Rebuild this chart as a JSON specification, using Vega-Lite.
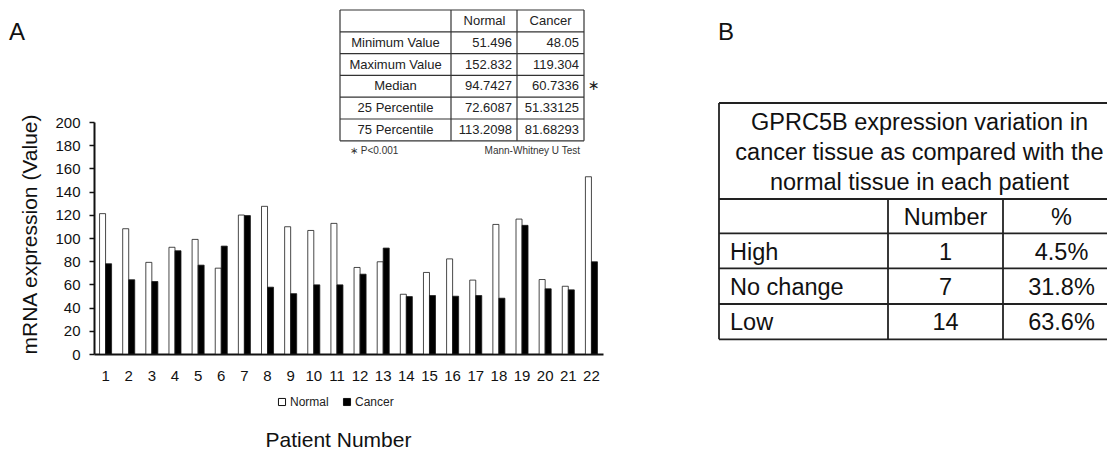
{
  "$schema": "https://vega.github.io/schema/vega-lite/v6.json",
  "width": 509,
  "height": 232,
  "autosize": {"type": "none"},
  "padding": {"left": 94, "top": 122, "right": 504, "bottom": 98},
  "background": "white",
  "config": {"view": {"stroke": null}, "font": "Liberation Sans"},
  "datasets": {
    "expr": [
      {"patient": 1, "tissue": "Normal", "value": 121.0}, {"patient": 1, "tissue": "Cancer", "value": 77.8},
      {"patient": 2, "tissue": "Normal", "value": 108.0}, {"patient": 2, "tissue": "Cancer", "value": 64.0},
      {"patient": 3, "tissue": "Normal", "value": 79.0}, {"patient": 3, "tissue": "Cancer", "value": 62.5},
      {"patient": 4, "tissue": "Normal", "value": 92.0}, {"patient": 4, "tissue": "Cancer", "value": 89.0},
      {"patient": 5, "tissue": "Normal", "value": 98.8}, {"patient": 5, "tissue": "Cancer", "value": 76.6},
      {"patient": 6, "tissue": "Normal", "value": 74.0}, {"patient": 6, "tissue": "Cancer", "value": 93.0},
      {"patient": 7, "tissue": "Normal", "value": 119.8}, {"patient": 7, "tissue": "Cancer", "value": 119.3},
      {"patient": 8, "tissue": "Normal", "value": 127.3}, {"patient": 8, "tissue": "Cancer", "value": 57.6},
      {"patient": 9, "tissue": "Normal", "value": 109.7}, {"patient": 9, "tissue": "Cancer", "value": 52.0},
      {"patient": 10, "tissue": "Normal", "value": 106.5}, {"patient": 10, "tissue": "Cancer", "value": 59.6},
      {"patient": 11, "tissue": "Normal", "value": 112.6}, {"patient": 11, "tissue": "Cancer", "value": 59.6},
      {"patient": 12, "tissue": "Normal", "value": 74.6}, {"patient": 12, "tissue": "Cancer", "value": 68.8},
      {"patient": 13, "tissue": "Normal", "value": 79.5}, {"patient": 13, "tissue": "Cancer", "value": 91.3},
      {"patient": 14, "tissue": "Normal", "value": 51.5}, {"patient": 14, "tissue": "Cancer", "value": 49.5},
      {"patient": 15, "tissue": "Normal", "value": 70.3}, {"patient": 15, "tissue": "Cancer", "value": 50.4},
      {"patient": 16, "tissue": "Normal", "value": 82.0}, {"patient": 16, "tissue": "Cancer", "value": 49.8},
      {"patient": 17, "tissue": "Normal", "value": 63.7}, {"patient": 17, "tissue": "Cancer", "value": 50.4},
      {"patient": 18, "tissue": "Normal", "value": 111.7}, {"patient": 18, "tissue": "Cancer", "value": 48.1},
      {"patient": 19, "tissue": "Normal", "value": 116.3}, {"patient": 19, "tissue": "Cancer", "value": 110.9},
      {"patient": 20, "tissue": "Normal", "value": 64.2}, {"patient": 20, "tissue": "Cancer", "value": 56.2},
      {"patient": 21, "tissue": "Normal", "value": 58.4}, {"patient": 21, "tissue": "Cancer", "value": 55.3},
      {"patient": 22, "tissue": "Normal", "value": 152.8}, {"patient": 22, "tissue": "Cancer", "value": 79.5}
    ],
    "statsA": [
      {"row": 1, "stat": "Minimum Value", "normal": "51.496", "cancer": "48.05", "sig": ""},
      {"row": 2, "stat": "Maximum Value", "normal": "152.832", "cancer": "119.304", "sig": ""},
      {"row": 3, "stat": "Median", "normal": "94.7427", "cancer": "60.7336", "sig": "∗"},
      {"row": 4, "stat": "25 Percentile", "normal": "72.6087", "cancer": "51.33125", "sig": ""},
      {"row": 5, "stat": "75 Percentile", "normal": "113.2098", "cancer": "81.68293", "sig": ""}
    ],
    "headA": [{"col": "Normal"}, {"col": "Cancer"}],
    "notesA": [{"note": "∗ P<0.001", "test": "Mann-Whitney U Test"}],
    "gridARows": [{"r": 0}, {"r": 1}, {"r": 2}, {"r": 3}, {"r": 4}, {"r": 5}, {"r": 6}],
    "gridACols": [{"c": 0}, {"c": 1}, {"c": 2}, {"c": 3}],
    "titleB": [{"title": "GPRC5B expression variation in\ncancer tissue as compared with the\nnormal tissue in each patient"}],
    "headB": [{"col": "Number"}, {"col": "%"}],
    "tableB": [
      {"row": 2, "level": "High", "count": 1, "share": 0.045},
      {"row": 3, "level": "No change", "count": 7, "share": 0.318},
      {"row": 4, "level": "Low", "count": 14, "share": 0.636}
    ],
    "gridBRows": [{"r": 0}, {"r": 1}, {"r": 2}, {"r": 3}, {"r": 4}, {"r": 5}],
    "gridBCols": [{"c": 0, "top": 0}, {"c": 1, "top": 1}, {"c": 2, "top": 1}, {"c": 3, "top": 0}],
    "panels": [{"panel": "A"}, {"panel": "B"}]
  },
  "resolve": {"scale": {"x": "independent", "y": "independent"}},
  "layer": [
    {
      "data": {"name": "expr"},
      "mark": {"type": "bar", "stroke": "#1a1a1a", "strokeWidth": 0.8},
      "encoding": {
        "x": {
          "field": "patient", "type": "ordinal",
          "scale": {"paddingInner": 0.48, "paddingOuter": 0.24},
          "axis": {
            "orient": "bottom", "title": "Patient Number", "labelAngle": 0, "ticks": false, "tickSize": 0,
            "labelPadding": 14, "labelFont": "Liberation Sans", "labelFontSize": 15, "labelColor": "#111",
            "domainColor": "#111", "domainWidth": 2,
            "titleFont": "Liberation Sans", "titleFontSize": 21, "titleFontWeight": "normal", "titleColor": "#111",
            "titleX": 244, "titleY": 92, "titleAlign": "center", "titleBaseline": "alphabetic"
          }
        },
        "xOffset": {"field": "tissue", "type": "nominal", "sort": ["Normal", "Cancer"], "scale": {"paddingInner": 0, "paddingOuter": 0}},
        "y": {
          "field": "value", "type": "quantitative",
          "scale": {"domain": [0, 200], "nice": false},
          "axis": {
            "orient": "left", "values": [0, 20, 40, 60, 80, 100, 120, 140, 160, 180, 200], "grid": false,
            "tickSize": 5, "tickWidth": 1.5, "tickColor": "#111", "domainColor": "#111", "domainWidth": 2,
            "labelPadding": 9, "labelFont": "Liberation Sans", "labelFontSize": 15, "labelColor": "#111",
            "title": "mRNA expression  (Value)", "titleFont": "Liberation Sans", "titleFontSize": 21,
            "titleFontWeight": "normal", "titleColor": "#111", "titleAngle": -90,
            "titleX": -58, "titleY": 112, "titleAlign": "center", "titleBaseline": "alphabetic"
          }
        },
        "fill": {
          "field": "tissue", "type": "nominal",
          "scale": {"domain": ["Normal", "Cancer"], "range": ["white", "black"]},
          "legend": {
            "title": null, "orient": "none", "legendX": 182, "legendY": 274, "direction": "horizontal",
            "symbolType": "square", "symbolSize": 50, "symbolStrokeColor": "#111", "symbolStrokeWidth": 1,
            "labelFont": "Liberation Sans", "labelFontSize": 12, "labelColor": "#222", "labelOffset": 2,
            "columnPadding": 12, "padding": 0
          }
        }
      }
    },
    {
      "data": {"name": "gridARows"},
      "mark": {"type": "rule", "stroke": "#333", "strokeWidth": 1.2},
      "encoding": {
        "y": {"field": "r", "type": "quantitative", "scale": {"domain": [0, 6], "range": [-112, 18.8]}, "axis": null},
        "x": {"datum": 0, "type": "quantitative", "scale": {"domain": [0, 1, 2, 3], "range": [246, 357, 423, 490]}, "axis": null},
        "x2": {"datum": 3}
      }
    },
    {
      "data": {"name": "gridACols"},
      "mark": {"type": "rule", "stroke": "#333", "strokeWidth": 1.2},
      "encoding": {
        "x": {"field": "c", "type": "quantitative", "scale": {"domain": [0, 1, 2, 3], "range": [246, 357, 423, 490]}, "axis": null},
        "y": {"datum": 0, "type": "quantitative", "scale": {"domain": [0, 6], "range": [-112, 18.8]}, "axis": null},
        "y2": {"datum": 6}
      }
    },
    {
      "data": {"name": "statsA"},
      "mark": {"type": "text", "align": "center", "baseline": "middle", "fontSize": 13, "color": "#222", "font": "Liberation Sans"},
      "encoding": {
        "x": {"datum": 0.5, "type": "quantitative", "scale": {"domain": [0, 1, 2, 3], "range": [246, 357, 423, 490]}, "axis": null},
        "y": {"field": "row", "type": "quantitative", "scale": {"domain": [0, 6], "range": [-101.1, 29.7]}, "axis": null},
        "text": {"field": "stat"}
      }
    },
    {
      "data": {"name": "statsA"},
      "mark": {"type": "text", "align": "right", "baseline": "middle", "dx": -5, "fontSize": 13, "color": "#222", "font": "Liberation Sans"},
      "encoding": {
        "x": {"datum": 2, "type": "quantitative", "scale": {"domain": [0, 1, 2, 3], "range": [246, 357, 423, 490]}, "axis": null},
        "y": {"field": "row", "type": "quantitative", "scale": {"domain": [0, 6], "range": [-101.1, 29.7]}, "axis": null},
        "text": {"field": "normal"}
      }
    },
    {
      "data": {"name": "statsA"},
      "mark": {"type": "text", "align": "right", "baseline": "middle", "dx": -5, "fontSize": 13, "color": "#222", "font": "Liberation Sans"},
      "encoding": {
        "x": {"datum": 3, "type": "quantitative", "scale": {"domain": [0, 1, 2, 3], "range": [246, 357, 423, 490]}, "axis": null},
        "y": {"field": "row", "type": "quantitative", "scale": {"domain": [0, 6], "range": [-101.1, 29.7]}, "axis": null},
        "text": {"field": "cancer"}
      }
    },
    {
      "data": {"name": "statsA"},
      "mark": {"type": "text", "align": "left", "baseline": "middle", "dx": 4, "fontSize": 14, "color": "#222", "font": "DejaVu Sans"},
      "encoding": {
        "x": {"datum": 3, "type": "quantitative", "scale": {"domain": [0, 1, 2, 3], "range": [246, 357, 423, 490]}, "axis": null},
        "y": {"field": "row", "type": "quantitative", "scale": {"domain": [0, 6], "range": [-101.1, 29.7]}, "axis": null},
        "text": {"field": "sig"}
      }
    },
    {
      "data": {"name": "headA"},
      "mark": {"type": "text", "align": "center", "baseline": "middle", "fontSize": 13, "color": "#222", "font": "Liberation Sans"},
      "encoding": {
        "x": {"field": "col", "type": "nominal", "scale": {"type": "point", "domain": ["Normal", "Cancer"], "range": [390.5, 456.5], "padding": 0}, "axis": null},
        "y": {"datum": 0, "type": "quantitative", "scale": {"domain": [0, 6], "range": [-101.1, 29.7]}, "axis": null},
        "text": {"field": "col"}
      }
    },
    {
      "data": {"name": "notesA"},
      "mark": {"type": "text", "align": "left", "baseline": "middle", "dx": 10, "dy": -1, "fontSize": 10, "color": "#333", "font": "Liberation Sans"},
      "encoding": {
        "x": {"datum": 0, "type": "quantitative", "scale": {"domain": [0, 1, 2, 3], "range": [246, 357, 423, 490]}, "axis": null},
        "y": {"datum": 6, "type": "quantitative", "scale": {"domain": [0, 6], "range": [-101.1, 29.7]}, "axis": null},
        "text": {"field": "note"}
      }
    },
    {
      "data": {"name": "notesA"},
      "mark": {"type": "text", "align": "right", "baseline": "middle", "dx": -4, "dy": -1, "fontSize": 10, "color": "#333", "font": "Liberation Sans"},
      "encoding": {
        "x": {"datum": 3, "type": "quantitative", "scale": {"domain": [0, 1, 2, 3], "range": [246, 357, 423, 490]}, "axis": null},
        "y": {"datum": 6, "type": "quantitative", "scale": {"domain": [0, 6], "range": [-101.1, 29.7]}, "axis": null},
        "text": {"field": "test"}
      }
    },
    {
      "data": {"name": "gridBRows"},
      "mark": {"type": "rule", "stroke": "#222", "strokeWidth": 1.8},
      "encoding": {
        "y": {"field": "r", "type": "quantitative", "scale": {"domain": [0, 1, 2, 3, 4, 5], "range": [-19, 77, 111.3, 146.3, 182, 217.3]}, "axis": null},
        "x": {"datum": 0, "type": "quantitative", "scale": {"domain": [0, 1, 2, 3], "range": [625, 794, 909, 1026]}, "axis": null},
        "x2": {"datum": 3}
      }
    },
    {
      "data": {"name": "gridBCols"},
      "mark": {"type": "rule", "stroke": "#222", "strokeWidth": 1.8},
      "encoding": {
        "x": {"field": "c", "type": "quantitative", "scale": {"domain": [0, 1, 2, 3], "range": [625, 794, 909, 1026]}, "axis": null},
        "y": {"field": "top", "type": "quantitative", "scale": {"domain": [0, 1, 2, 3, 4, 5], "range": [-19, 77, 111.3, 146.3, 182, 217.3]}, "axis": null},
        "y2": {"datum": 5}
      }
    },
    {
      "data": {"name": "titleB"},
      "mark": {"type": "text", "align": "center", "baseline": "middle", "dy": -28, "lineBreak": "\n", "lineHeight": 30, "fontSize": 23.5, "color": "#111", "font": "Liberation Sans"},
      "encoding": {
        "x": {"datum": 0.5, "type": "quantitative", "scale": {"domain": [0, 1], "range": [625, 1026]}, "axis": null},
        "y": {"datum": 0.5, "type": "quantitative", "scale": {"domain": [0, 1, 2, 3, 4, 5], "range": [-19, 77, 111.3, 146.3, 182, 217.3]}, "axis": null},
        "text": {"field": "title"}
      }
    },
    {
      "data": {"name": "headB"},
      "mark": {"type": "text", "align": "center", "baseline": "middle", "fontSize": 23.5, "color": "#111", "font": "Liberation Sans"},
      "encoding": {
        "x": {"field": "col", "type": "nominal", "scale": {"type": "point", "domain": ["Number", "%"], "range": [851.5, 967.5], "padding": 0}, "axis": null},
        "y": {"datum": 1, "type": "quantitative", "scale": {"domain": [1, 4], "range": [96, 201]}, "axis": null},
        "text": {"field": "col"}
      }
    },
    {
      "data": {"name": "tableB"},
      "mark": {"type": "text", "align": "left", "baseline": "middle", "dx": 11, "fontSize": 23.5, "color": "#111", "font": "Liberation Sans"},
      "encoding": {
        "x": {"datum": 0, "type": "quantitative", "scale": {"domain": [0, 1, 2, 3], "range": [625, 794, 909, 1026]}, "axis": null},
        "y": {"field": "row", "type": "quantitative", "scale": {"domain": [1, 4], "range": [96, 201]}, "axis": null},
        "text": {"field": "level"}
      }
    },
    {
      "data": {"name": "tableB"},
      "mark": {"type": "text", "align": "center", "baseline": "middle", "fontSize": 23.5, "color": "#111", "font": "Liberation Sans"},
      "encoding": {
        "x": {"datum": 1.5, "type": "quantitative", "scale": {"domain": [0, 1, 2, 3], "range": [625, 794, 909, 1026]}, "axis": null},
        "y": {"field": "row", "type": "quantitative", "scale": {"domain": [1, 4], "range": [96, 201]}, "axis": null},
        "text": {"field": "count", "type": "quantitative", "format": "d"}
      }
    },
    {
      "data": {"name": "tableB"},
      "mark": {"type": "text", "align": "center", "baseline": "middle", "fontSize": 23.5, "color": "#111", "font": "Liberation Sans"},
      "encoding": {
        "x": {"datum": 2.5, "type": "quantitative", "scale": {"domain": [0, 1, 2, 3], "range": [625, 794, 909, 1026]}, "axis": null},
        "y": {"field": "row", "type": "quantitative", "scale": {"domain": [1, 4], "range": [96, 201]}, "axis": null},
        "text": {"field": "share", "type": "quantitative", "format": ".1%"}
      }
    },
    {
      "data": {"name": "panels"},
      "mark": {"type": "text", "align": "left", "baseline": "middle", "fontSize": 24, "color": "#111", "font": "Liberation Sans"},
      "encoding": {
        "x": {"field": "panel", "type": "nominal", "scale": {"type": "point", "domain": ["A", "B"], "range": [-85, 624], "padding": 0}, "axis": null},
        "y": {"field": "panel", "type": "nominal", "scale": {"type": "point", "domain": ["A", "B"], "range": [-89, -89], "padding": 0}, "axis": null},
        "text": {"field": "panel"}
      }
    }
  ]
}
